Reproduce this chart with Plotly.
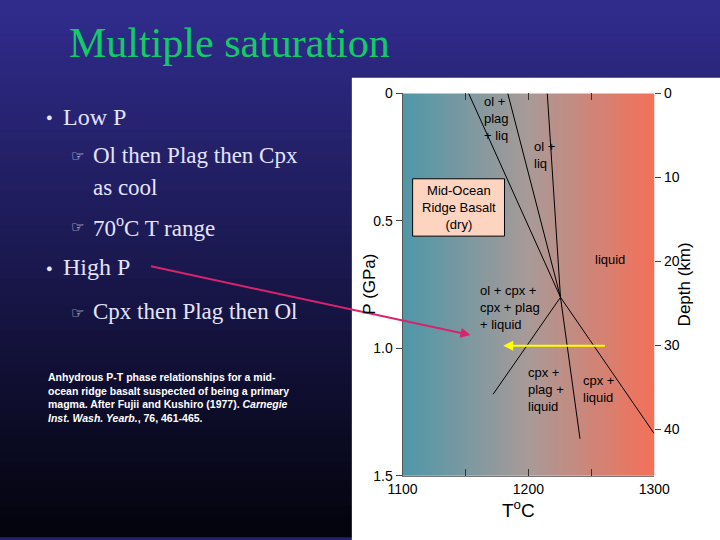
import numpy as np
import plotly.graph_objects as go

# phase boundaries (T in C, P in GPa)
inv_T, inv_P = 1225.5, 0.80
top_T = [1152.5, 1183.6, 1215.0]          # three boundaries from P=0 to invariant point
low_T = [1172.0, 1241.0, 1300.0]          # three boundaries below invariant point
low_P = [1.18, 1.355, 1.335]

labels = ["ol +<br>plag<br>+ liq", "ol +<br>liq", "liquid", "ol + cpx +<br>cpx + plag<br>+ liquid",
          "cpx +<br>plag +<br>liquid", "cpx +<br>liquid"]
label_T = [1175.0, 1213.0, 1265.0, 1160.0, 1198.0, 1242.0]
label_P = [0.10, 0.24, 0.65, 0.84, 1.16, 1.16]

arrow_T = [1262.0, 1180.0]
arrow_P = [0.99, 0.99]

def px(x): return x / 720
def py(y): return 1 - y / 540

fig = go.Figure()

# colour gradient inside diagram
gx = np.linspace(1100, 1300, 120)
fig.add_trace(go.Heatmap(x=gx, y=[0, 1.5], z=[gx, gx], showscale=False, hoverinfo="skip",
                         colorscale=[[0, "#4e97a9"], [0.5, "#a89a98"], [1, "#f47058"]]))

for t in top_T:
    fig.add_trace(go.Scatter(x=[t, inv_T], y=[0, inv_P], mode="lines", line=dict(color="black", width=1)))
for t, p in zip(low_T, low_P):
    fig.add_trace(go.Scatter(x=[inv_T, t], y=[inv_P, p], mode="lines", line=dict(color="black", width=1)))

fig.add_trace(go.Scatter(x=[1100, 1300], y=[0, 0], xaxis="x2", mode="lines", line=dict(width=0), hoverinfo="skip"))
fig.add_trace(go.Scatter(x=[1300, 1300], y=[0, 45], yaxis="y2", mode="lines", line=dict(width=0), hoverinfo="skip"))

shapes = []
# slide background bands
n = 60
for i in range(n):
    f = i / (n - 1)
    c = (int(48 * (1 - f) + 4 * f), int(44 * (1 - f) + 4 * f), int(140 * (1 - f) + 14 * f))
    shapes.append(dict(type="rect", xref="paper", yref="paper", x0=-0.1, x1=1.1,
                       y0=1 - (i + 1.6) / n, y1=1 - i / n + (0.1 if i == 0 else 0), line=dict(width=0),
                       fillcolor="rgb(%d,%d,%d)" % c, layer="below"))
shapes.append(dict(type="rect", xref="paper", yref="paper", x0=px(352), x1=1.1, y0=-0.1, y1=py(72),
                   line=dict(width=0), fillcolor="white", layer="below"))
shapes.append(dict(type="rect", xref="x", yref="y", x0=1108, x1=1181, y0=0.335, y1=0.56,
                   line=dict(color="black", width=1), fillcolor="#fcd4bf"))

sans = "Liberation Sans"
ann = []
ann.append(dict(x=1144.5, y=0.447, xref="x", yref="y", showarrow=False,
                text="Mid-Ocean<br>Ridge Basalt<br>(dry)", font=dict(size=13, color="black", family=sans)))
for t, p, s in zip(label_T, label_P, labels):
    ann.append(dict(x=t, y=p, xref="x", yref="y", showarrow=False, text=s, align="left", yanchor="middle",
                    xanchor="left" if s.startswith("ol + cpx") or s.startswith("cpx") else "center",
                    font=dict(size=13, color="black", family=sans)))
ann.append(dict(x=arrow_T[1], y=arrow_P[1], ax=arrow_T[0], ay=arrow_P[0], xref="x", yref="y",
                axref="x", ayref="y", showarrow=True, arrowhead=2, arrowsize=1, arrowwidth=2,
                arrowcolor="#ffff00", text=""))
ann.append(dict(x=px(476), y=py(337), ax=155 - 476, ay=268 - 337, xref="paper", yref="paper",
                axref="pixel", ayref="pixel", showarrow=True, arrowhead=2, arrowsize=1, arrowwidth=2,
                arrowcolor="#d8246c", text=""))
ann.append(dict(x=px(370), y=py(285), xref="paper", yref="paper", showarrow=False, textangle=-90,
                yanchor="middle", text="P (GPa)", font=dict(size=17, color="black", family=sans)))
ann.append(dict(x=px(712), y=py(285), xref="paper", yref="paper", showarrow=False, textangle=-90,
                yanchor="middle", text="Depth (km)", font=dict(size=17, color="black", family=sans)))
ann.append(dict(x=px(545), y=py(516), xref="paper", yref="paper", showarrow=False, yanchor="middle",
                text="T<sup>o</sup>C", font=dict(size=19, color="black", family=sans)))

serif = "Liberation Serif"
ann.append(dict(x=px(54), y=py(36), xref="paper", yref="paper", showarrow=False, xanchor="left",
                yanchor="middle", text="Multiple saturation", font=dict(size=42, color="#11cc66", family=serif)))
txt = "#e4e4ff"
for y, s in [(112, "Low P"), (267, "High P")]:
    ann.append(dict(x=px(30), y=py(y), xref="paper", yref="paper", showarrow=False, xanchor="left",
                    yanchor="middle", text="●", font=dict(size=11, color=txt)))
    ann.append(dict(x=px(48), y=py(y), xref="paper", yref="paper", showarrow=False, xanchor="left",
                    yanchor="middle", text=s, font=dict(size=24, color=txt, family=serif)))
for y, s, b in [(152, "Ol then Plag then Cpx", True), (185, "as cool", False),
                (225, "70<sup>o</sup>C T range", True), (313, "Cpx then Plag then Ol", True)]:
    if b:
        ann.append(dict(x=px(56), y=py(y), xref="paper", yref="paper", showarrow=False, xanchor="left",
                        yanchor="middle", text="☞", font=dict(size=15, color=txt)))
    ann.append(dict(x=px(79), y=py(y), xref="paper", yref="paper", showarrow=False, xanchor="left",
                    yanchor="middle", text=s, font=dict(size=23, color=txt, family=serif)))
ann.append(dict(x=px(32), y=py(401), xref="paper", yref="paper", showarrow=False, xanchor="left", align="left",
                yanchor="middle",
                text="<b>Anhydrous P-T phase relationships for a mid-<br>ocean ridge basalt suspected of being a primary<br>"
                     "magma. After Fujii and Kushiro (1977). <i>Carnegie<br>Inst. Wash. Yearb.</i>, 76, 461-465.</b>",
                font=dict(size=10.5, color="white", family=sans)))

tf = dict(size=14, color="black", family=sans)
fig.update_layout(
    width=720, height=540, margin=dict(l=0, r=0, t=0, b=0), showlegend=False,
    paper_bgcolor="#24226e", plot_bgcolor="white", shapes=shapes, annotations=ann,
    xaxis=dict(domain=[px(405), px(668)], range=[1100, 1300], tickvals=[1100, 1150, 1200, 1250, 1300],
               ticktext=["1100", "", "1200", "", "1300"], ticks="inside", ticklen=7, tickcolor="#333",
               showgrid=False, zeroline=False, tickfont=tf, showline=True, linecolor="#777"),
    xaxis2=dict(overlaying="x", side="top", range=[1100, 1300], tickvals=[1150, 1200, 1250],
                ticks="inside", ticklen=7, tickcolor="#333", showticklabels=False, showgrid=False,
                zeroline=False),
    yaxis=dict(domain=[py(482), py(88)], range=[1.5, 0], tickvals=[0, 0.5, 1.0, 1.5],
               ticktext=["0", "0.5", "1.0", "1.5"], ticks="outside", ticklen=6, showgrid=False,
               zeroline=False, tickfont=tf, showline=True, linecolor="#555"),
    yaxis2=dict(overlaying="y", side="right", range=[45.5, 0], tickvals=[0, 10, 20, 30, 40],
                ticks="outside", ticklen=6, showgrid=False, zeroline=False, tickfont=tf,
                showline=False),
)
fig.write_html("out.html", config={"displayModeBar": False},
               post_script="document.body.style.margin='0';document.body.style.overflow='hidden';")
